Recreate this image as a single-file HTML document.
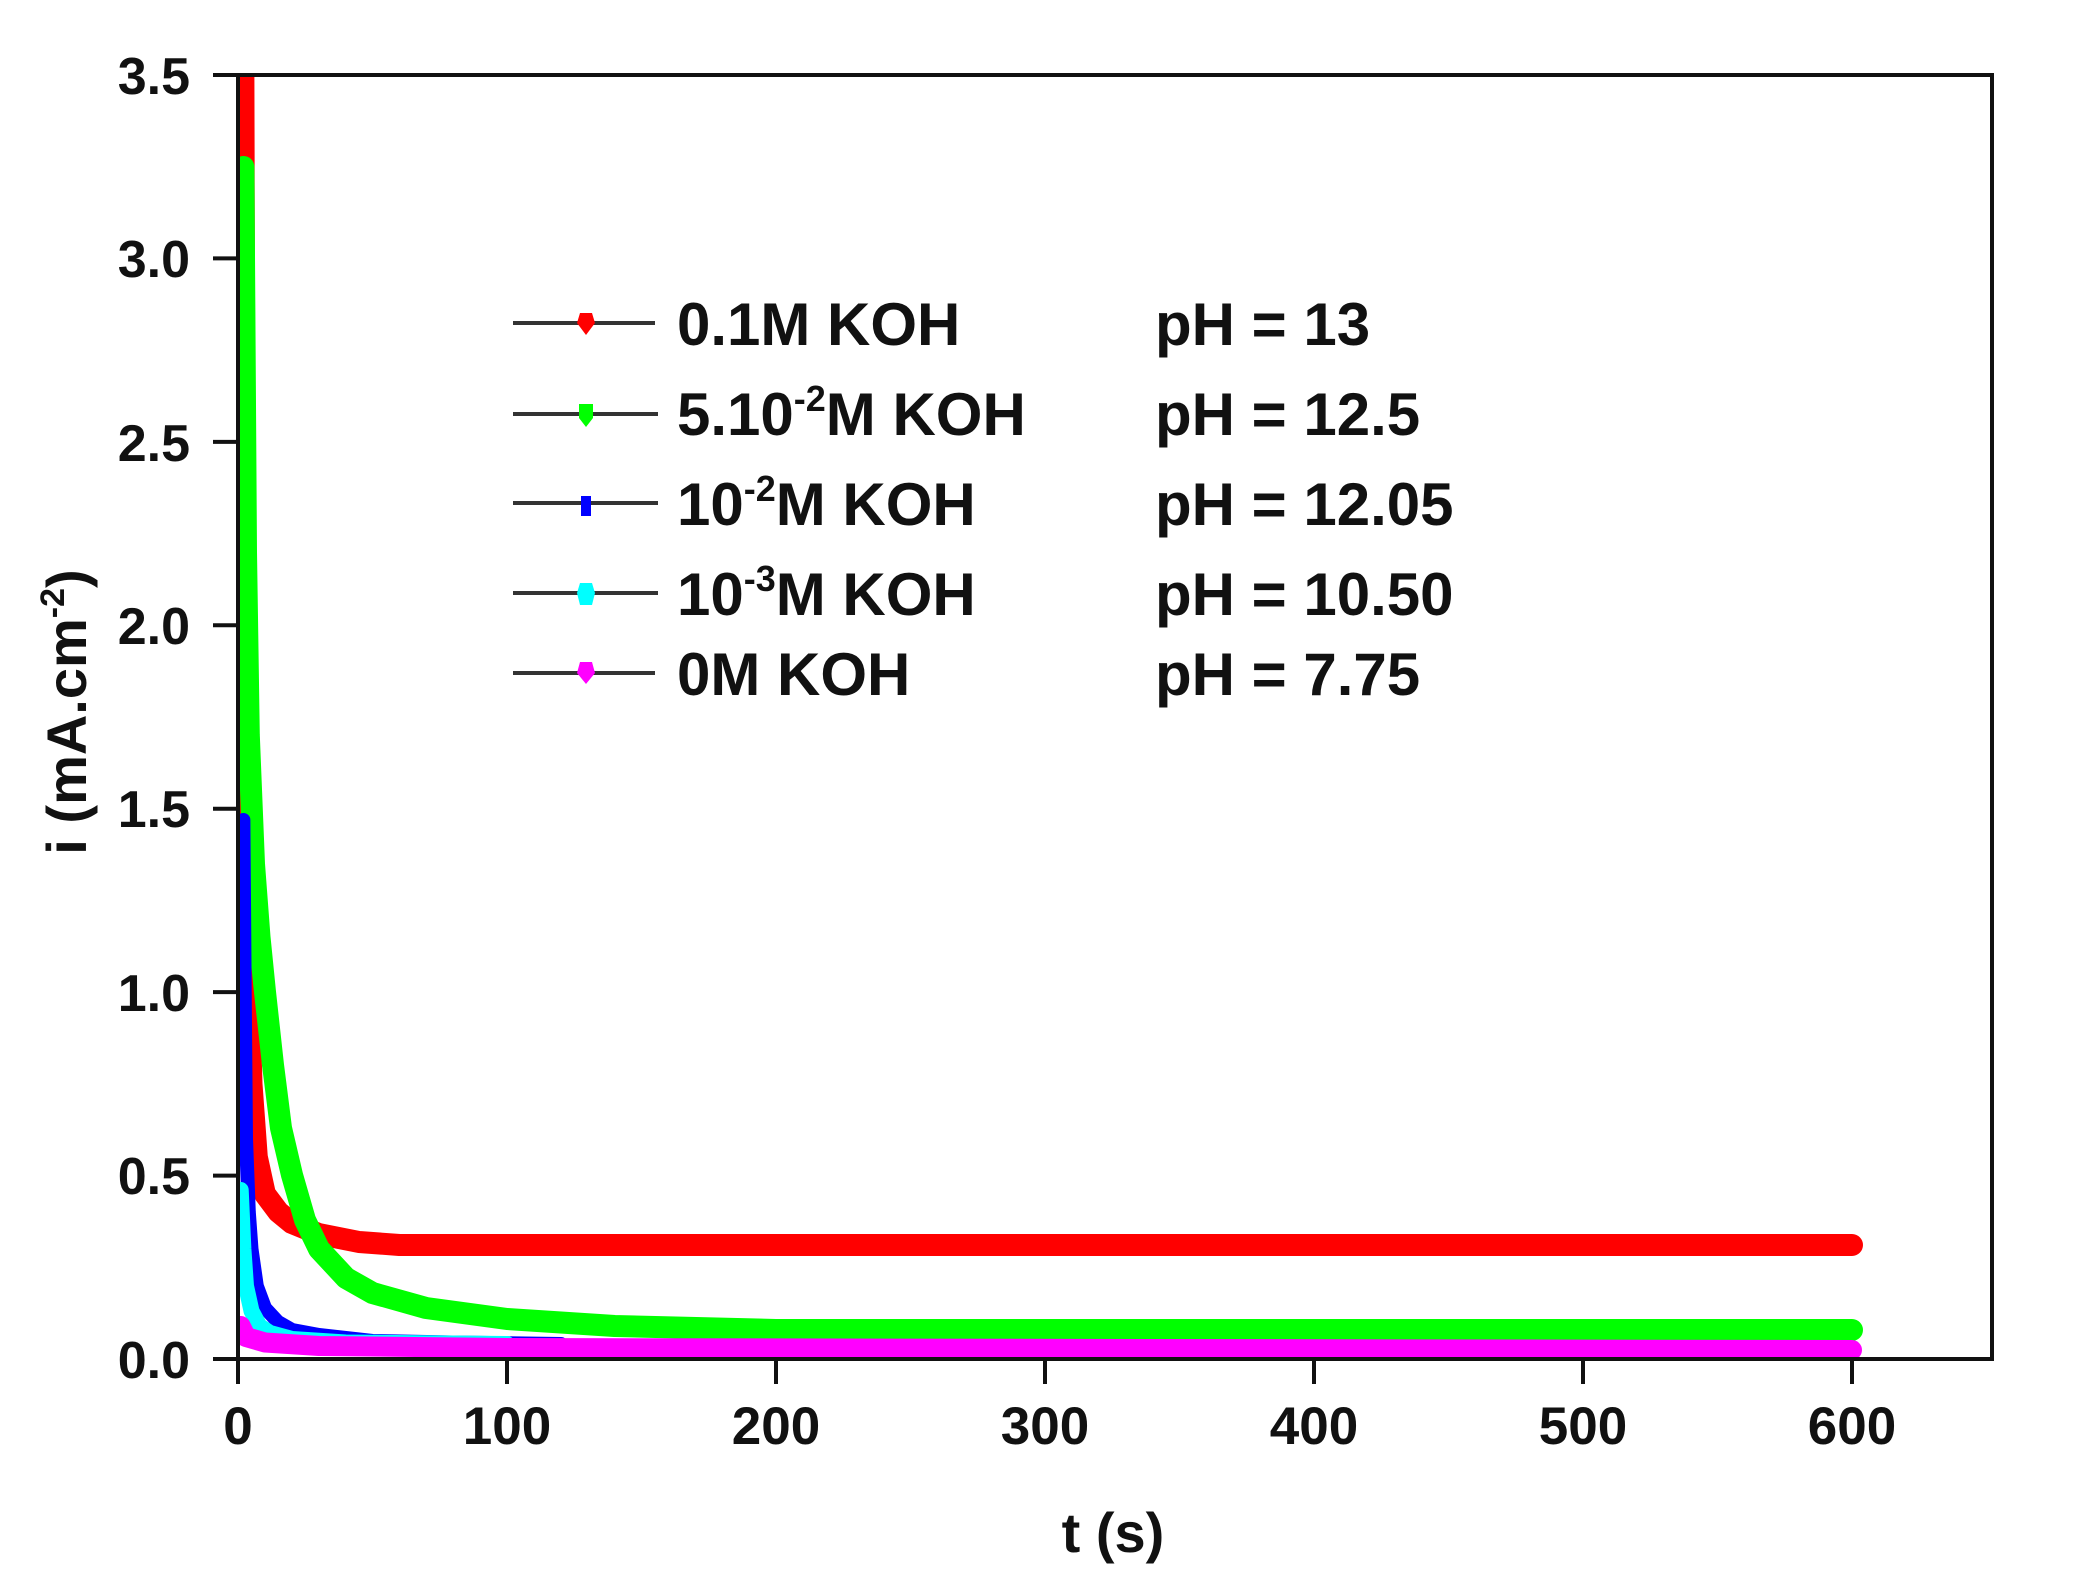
<!DOCTYPE html>
<html><head><meta charset="utf-8"><style>
html,body{margin:0;padding:0;background:#fff;}
svg{display:block;}
text{font-family:"Liberation Sans",Arial,sans-serif;font-weight:bold;fill:#111;}
</style></head><body>
<svg width="2075" height="1595" viewBox="0 0 2075 1595" xmlns="http://www.w3.org/2000/svg">
<defs><clipPath id="c"><rect x="238" y="75" width="1754" height="1284"/></clipPath></defs>
<g clip-path="url(#c)" fill="none" stroke-linecap="round" stroke-linejoin="round">
<polyline stroke="#ff0000" stroke-width="22" points="242,75 243.4,75 244.7,552 246,809 248.8,992 251.5,1084 256.8,1157 264.9,1194 278.4,1212 291.8,1223 318.7,1234 359,1242 399.4,1245 507,1245 1852,1245"/>
<polyline stroke="#ff0000" stroke-width="8" points="242,75 243,1000"/>
<polyline stroke="#00ff00" stroke-width="22" points="243.4,167 246,552 248.8,735 254,864 259.5,937 265,992 273,1065 281,1128 292,1175 305,1220 319,1249 346,1278 372.5,1293 426,1308 507,1319 614.6,1326 776,1330 1852,1330"/>
<polyline stroke="#0000ff" stroke-width="14" points="243.4,820 244.7,992 246,1139 248.8,1212 251.5,1249 256.8,1286 265,1308 278,1322 292,1330 319,1335 372.5,1341 453,1342.5 561,1344"/>
<polyline stroke="#00ffff" stroke-width="16" points="240.7,1190 243.4,1249 246,1286 251.5,1311 259.5,1326 270,1333 292,1339 345.6,1342.5 507,1344"/>
<polyline stroke="#ff00ff" stroke-width="20" points="240.7,1326 246,1337 265,1342.5 319,1346 507,1348 1852,1350"/>
</g>
<rect x="238" y="75" width="1754" height="1284" fill="none" stroke="#111" stroke-width="4"/>
<g stroke="#111" stroke-width="4">
<line x1="213" y1="75" x2="238" y2="75"/><line x1="213" y1="258.4" x2="238" y2="258.4"/><line x1="213" y1="441.9" x2="238" y2="441.9"/><line x1="213" y1="625.3" x2="238" y2="625.3"/><line x1="213" y1="808.7" x2="238" y2="808.7"/><line x1="213" y1="992.1" x2="238" y2="992.1"/><line x1="213" y1="1175.6" x2="238" y2="1175.6"/><line x1="213" y1="1359" x2="238" y2="1359"/>
<line x1="238" y1="1359" x2="238" y2="1384"/><line x1="507" y1="1359" x2="507" y2="1384"/><line x1="776" y1="1359" x2="776" y2="1384"/><line x1="1045" y1="1359" x2="1045" y2="1384"/><line x1="1314" y1="1359" x2="1314" y2="1384"/><line x1="1583" y1="1359" x2="1583" y2="1384"/><line x1="1852" y1="1359" x2="1852" y2="1384"/>
</g>
<g font-size="52" text-anchor="end">
<text x="190" y="94">3.5</text><text x="190" y="277">3.0</text><text x="190" y="461">2.5</text><text x="190" y="644">2.0</text><text x="190" y="827">1.5</text><text x="190" y="1011">1.0</text><text x="190" y="1194">0.5</text><text x="190" y="1378">0.0</text>
</g>
<g font-size="53" text-anchor="middle">
<text x="238" y="1444">0</text><text x="507" y="1444">100</text><text x="776" y="1444">200</text><text x="1045" y="1444">300</text><text x="1314" y="1444">400</text><text x="1583" y="1444">500</text><text x="1852" y="1444">600</text>
</g>
<text x="1113" y="1552" font-size="56" text-anchor="middle">t (s)</text>
<text transform="translate(86,712) rotate(-90)" font-size="56" text-anchor="middle">i (mA.cm<tspan dy="-22" font-size="34">-2</tspan><tspan dy="22">)</tspan></text>
<g stroke="#333" stroke-width="4">
<line x1="513" y1="323" x2="655" y2="323"/><line x1="513" y1="414" x2="658" y2="414"/><line x1="513" y1="503" x2="658" y2="503"/><line x1="513" y1="593" x2="658" y2="593"/><line x1="513" y1="673" x2="655" y2="673"/>
</g>
<g>
<polygon fill="#ff0000" points="580,313 592,313 595,323 586,335 577,323"/>
<polygon fill="#00ff00" points="579,404 593,404 593,418 586,427 579,418"/>
<polygon fill="#0000ff" points="581,496 591,496 591,516 581,516"/>
<polygon fill="#00ffff" points="580,583 592,583 595,593 592,605 580,605 577,593"/>
<polygon fill="#ff00ff" points="580,662 592,662 595,673 586,684 577,673"/>
</g>
<g font-size="60">
<text x="677" y="345">0.1M KOH</text>
<text x="677" y="435">5.10<tspan dy="-24" font-size="36">-2</tspan><tspan dy="24">M KOH</tspan></text>
<text x="677" y="525">10<tspan dy="-24" font-size="36">-2</tspan><tspan dy="24">M KOH</tspan></text>
<text x="677" y="615">10<tspan dy="-24" font-size="36">-3</tspan><tspan dy="24">M KOH</tspan></text>
<text x="677" y="695">0M KOH</text>
<text x="1155" y="345">pH = 13</text>
<text x="1155" y="435">pH = 12.5</text>
<text x="1155" y="525">pH = 12.05</text>
<text x="1155" y="615">pH = 10.50</text>
<text x="1155" y="695">pH = 7.75</text>
</g>
</svg>
</body></html>
